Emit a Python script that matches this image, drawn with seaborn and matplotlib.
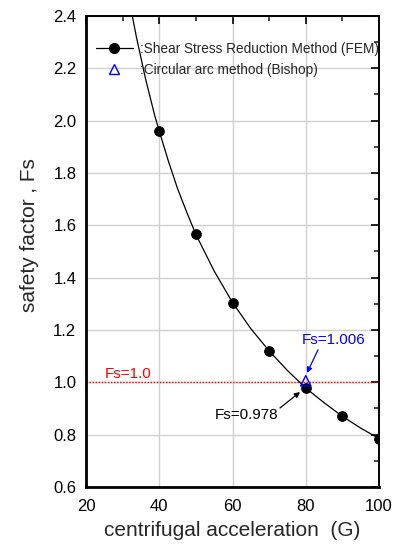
import matplotlib
matplotlib.use("Agg")
import matplotlib.pyplot as plt
import seaborn as sns
import pandas as pd
from matplotlib.ticker import MultipleLocator, FormatStrFormatter
from matplotlib.lines import Line2D

# Data
fem_x = [40, 50, 60, 70, 80, 90, 100]
fem_fs = [1.96, 1.565, 1.305, 1.12, 0.978, 0.87, 0.785]
bishop_x = [80]
bishop_fs = [1.006]
curve_x = [32.5, 33.75, 35, 36.25, 37.5, 38.75, 40, 42.5, 45, 47.5, 50, 55, 60, 65, 70, 75, 80, 85, 90, 95, 100]
curve_fs = [2.41, 2.32, 2.24, 2.16, 2.09, 2.02, 1.96, 1.845, 1.74, 1.65, 1.565, 1.425, 1.305, 1.205, 1.12, 1.045, 0.978, 0.922, 0.87, 0.825, 0.785]
ref_line = 1.0

sns.set_style("white")
plt.rcParams['font.family'] = ['Liberation Sans', 'DejaVu Sans']

fig = plt.figure(figsize=(4.01, 5.44), dpi=100)
ax = fig.add_axes([0.2145, 0.1048, 0.7307, 0.8658])

curve_df = pd.DataFrame({"x": curve_x, "fs": curve_fs})
fem_df = pd.DataFrame({"x": fem_x, "fs": fem_fs})
bishop_df = pd.DataFrame({"x": bishop_x, "fs": bishop_fs})

ax.grid(True, color="#d0d0d0", linewidth=1.0, zorder=0)
ax.set_axisbelow(True)

sns.lineplot(data=curve_df, x="x", y="fs", ax=ax, color="black", linewidth=0.9, zorder=3)
sns.scatterplot(data=fem_df, x="x", y="fs", ax=ax, color="black", s=50, edgecolor="black", zorder=4)
sns.scatterplot(data=bishop_df, x="x", y="fs", ax=ax, marker="^", s=55, facecolor="none",
                edgecolor="blue", linewidth=1.0, zorder=5)
ax.axhline(ref_line, color="red", linestyle=(0, (1, 1.2)), linewidth=1.0, zorder=2)

ax.set_xlim(20, 100)
ax.set_ylim(0.6, 2.4)
ax.xaxis.set_major_locator(MultipleLocator(20))
ax.xaxis.set_minor_locator(MultipleLocator(10))
ax.yaxis.set_major_locator(MultipleLocator(0.2))
ax.yaxis.set_minor_locator(MultipleLocator(0.1))
ax.yaxis.set_major_formatter(FormatStrFormatter('%.1f'))
ax.tick_params(which="major", direction="in", length=6, width=1.2, top=True, right=True,
               labelsize=12, colors="black")
ax.tick_params(axis="x", which="major", pad=9)
ax.tick_params(axis="y", which="major", pad=7)
ax.tick_params(which="minor", direction="in", length=3.5, width=1.2, top=True, right=True)
for side in ["left", "bottom"]:
    ax.spines[side].set_linewidth(2.0)
for side in ["top", "right"]:
    ax.spines[side].set_linewidth(1.4)
for s in ax.spines.values():
    s.set_color("black")

ax.set_xlabel("centrifugal acceleration  (G)", fontsize=15, labelpad=5)
ax.set_ylabel("safety factor , Fs", fontsize=15)
ax.yaxis.set_label_coords(-0.162, 0.535)

ax.text(25.2, 1.03, "Fs=1.0", color="red", fontsize=11, ha="left", va="center")
ax.text(87.7, 1.162, "Fs=1.006", color="blue", fontsize=11, ha="center", va="center")
ax.text(63.7, 0.875, "Fs=0.978", color="black", fontsize=11, ha="center", va="center")
ax.annotate("", xy=(80.34, 1.036), xytext=(83.34, 1.124),
            arrowprops=dict(arrowstyle="-|>", color="blue", lw=0.9, mutation_scale=8,
                            shrinkA=0, shrinkB=0))
ax.annotate("", xy=(78.43, 0.963), xytext=(72.97, 0.902),
            arrowprops=dict(arrowstyle="-|>", color="black", lw=0.9, mutation_scale=8,
                            shrinkA=0, shrinkB=0))

handles = [
    Line2D([], [], color="black", marker="o", markersize=7, linewidth=0.9),
    Line2D([], [], color="blue", marker="^", markersize=7, markerfacecolor="none",
           linestyle="none", markeredgewidth=1.0),
]
labels = [":Shear Stress Reduction Method (FEM)", ":Circular arc method (Bishop)"]
ax.legend(handles, labels, loc="upper left", bbox_to_anchor=(0.0, 0.965), frameon=False,
          fontsize=9.8, handlelength=2.75, handletextpad=0.55, labelspacing=0.5,
          borderaxespad=0.3)

fig.savefig("out.png", dpi=100)
